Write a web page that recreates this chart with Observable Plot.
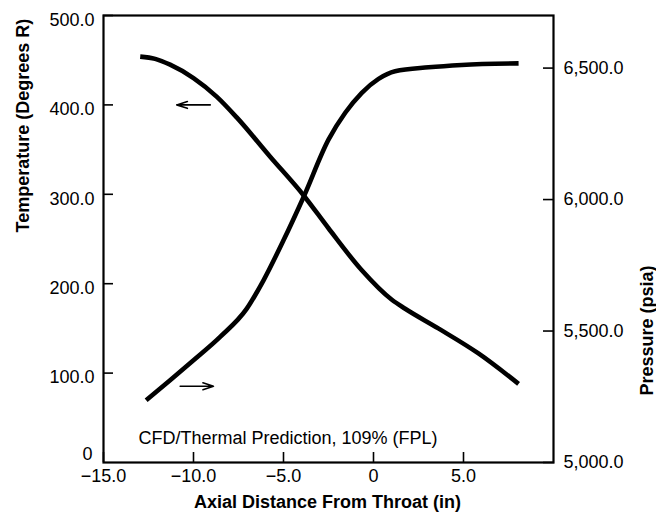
<!DOCTYPE html>
<html>
<head>
<meta charset="utf-8">
<script src="https://cdn.jsdelivr.net/npm/d3@7"></script>
<script src="https://cdn.jsdelivr.net/npm/@observablehq/plot@0.6"></script>
<style>
  html, body { margin: 0; padding: 0; background: #fff; }
</style>
</head>
<body>
<div id="chart"></div>
<script>
// Temperature curve (left axis, Degrees R)
const tempX = [-12.96, -12.13, -11.3, -10.0, -8.7, -7.6, -5.74, -3.89, -2.5, -0.65, 1.02, 1.76, 3.6, 5.83, 8.06];
const tempY = [454, 451.5, 445, 430, 409, 386, 342, 299, 262, 215, 182, 172, 150, 122, 88];

// Pressure curve (right axis, psia)
const presX = [-12.63, -11.3, -10.0, -8.52, -7.04, -6.11, -5.0, -3.89, -2.5, -1.57, -0.65, 0.28, 1.2, 3.06, 4.9, 8.06];
const presY = [5237, 5313, 5389, 5478, 5585, 5693, 5845, 6009, 6228, 6330, 6406, 6459, 6488, 6503, 6512, 6518];

// Axis ticks
const xTicks = [-15, -10, -5, 0, 5];
const tempTicks = [100, 200, 300, 400, 500];
const presTicks = [5000, 5500, 6000, 6500];

// Pointer arrows: temperature arrow points left, pressure arrow points right
const arrowTemp = {x1: -9.07, x2: -10.93, y: 400};
const arrowPres = {x1: -10.74, x2: -8.89, y: 5290};

// Annotation
const noteText = "CFD/Thermal Prediction, 109% (FPL)";
const noteX = -13.06, noteY = 27;

// Scale parameters
const tempDomain = [0, 500];
const presDomain = [5000, 6700];
const pToT = p => (p - presDomain[0]) / (presDomain[1] - presDomain[0]) * (tempDomain[1] - tempDomain[0]) + tempDomain[0];
const tToP = t => (t - tempDomain[0]) / (tempDomain[1] - tempDomain[0]) * (presDomain[1] - presDomain[0]) + presDomain[0];

const tempData = tempX.map((x, i) => ({x, y: tempY[i]}));
const presData = presX.map((x, i) => ({x, y: pToT(presY[i])}));
const arrows = [
  {x1: arrowTemp.x1, x2: arrowTemp.x2, y: arrowTemp.y},
  {x1: arrowPres.x1, x2: arrowPres.x2, y: pToT(arrowPres.y)}
];

const fmt1 = d3.format(".1f");
const fmtP = d3.format(",.1f");
const font = "'Liberation Sans', Arial, Helvetica, sans-serif";

const chart = Plot.plot({
  width: 656,
  height: 516,
  marginLeft: 103,
  marginRight: 103,
  marginTop: 15,
  marginBottom: 54,
  style: {fontFamily: font, fontSize: "18px", color: "#000", background: "#fff", overflow: "visible"},
  x: {domain: [-15, 10], axis: null},
  y: {domain: tempDomain, axis: null},
  marks: [
    // left axis ticks (inward)
    Plot.axisY(tempTicks, {anchor: "left", tickSize: 10, dx: 10, tickFormat: () => "", strokeWidth: 1.6, label: null}),
    Plot.axisY(tempTicks, {anchor: "left", tickSize: 0, tickPadding: 9, dy: 4.5, tickFormat: fmt1, fontSize: 18, label: null}),
    Plot.axisY([0], {anchor: "left", tickSize: 0, tickPadding: 11, dy: -8.5, tickFormat: () => "0", fontSize: 18, label: null}),
    // right axis (pressure)
    Plot.axisY(presTicks.map(pToT), {anchor: "right", tickSize: 11, dx: -11, tickPadding: 10, tickFormat: v => fmtP(Math.round(tToP(v))), fontSize: 18, strokeWidth: 1.6, label: null}),
    // bottom axis
    Plot.axisX(xTicks, {anchor: "bottom", tickSize: 10, dy: -10, tickPadding: 7, tickFormat: d => d === 0 ? "0" : fmt1(d), fontSize: 18, strokeWidth: 1.6, label: null}),
    Plot.frame({stroke: "#000", strokeWidth: 2.2}),
    // curves
    Plot.line(tempData, {x: "x", y: "y", curve: "monotone-x", stroke: "#000", strokeWidth: 4.6, strokeLinecap: "butt"}),
    Plot.line(presData, {x: "x", y: "y", curve: "monotone-x", stroke: "#000", strokeWidth: 4.6, strokeLinecap: "butt"}),
    // arrows
    Plot.arrow(arrows, {x1: "x1", y1: "y", x2: "x2", y2: "y", stroke: "#000", strokeWidth: 1.6, headLength: 14, headAngle: 36}),
    // annotation
    Plot.text([noteText], {x: noteX, y: noteY, text: d => d, textAnchor: "start", fontSize: 18, fill: "#000"}),
    // axis titles
    Plot.text(["Temperature (Degrees R)"], {frameAnchor: "left", text: d => d, rotate: -90, dx: -80, dy: -6.5, fontWeight: "bold", fontSize: 18, fill: "#000"}),
    Plot.text(["Pressure (psia)"], {frameAnchor: "right", text: d => d, rotate: -90, dx: 94, dy: 26.5, fontWeight: "bold", fontSize: 18, fill: "#000"}),
    Plot.text(["Axial Distance From Throat (in)"], {frameAnchor: "bottom", text: d => d, dx: -1, dy: 45, fontWeight: "bold", fontSize: 18, fill: "#000"})
  ]
});
document.getElementById("chart").appendChild(chart);
</script>
</body>
</html>
